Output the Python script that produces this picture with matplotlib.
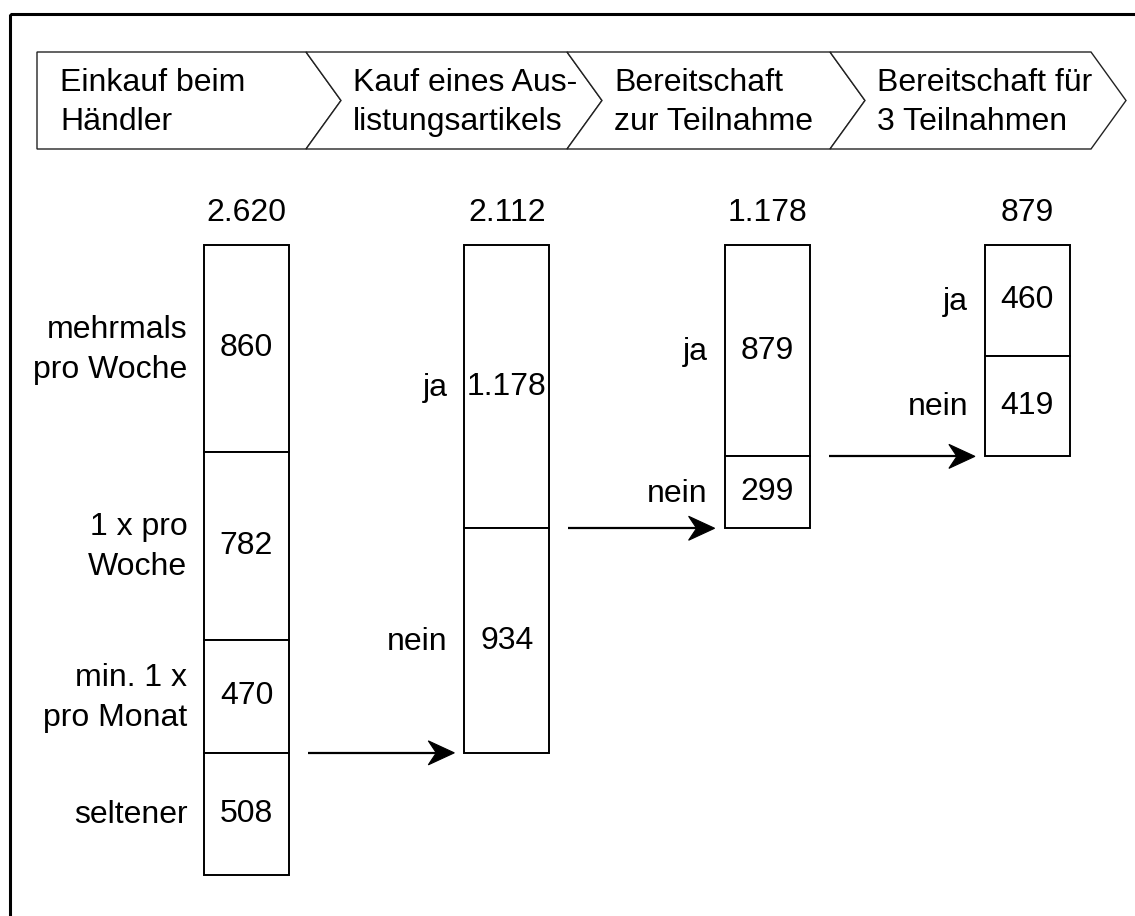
"""
Funnel of a retail survey: four process steps shown as chevrons,
stacked boxes per step (drawn to scale) and arrows to the next step.
"""

import matplotlib
matplotlib.use("Agg")
import matplotlib.pyplot as plt
from matplotlib.patches import Polygon, Rectangle

# ── Data ──────────────────────────────────────────────────────────────────────
STAGES = [
    "Einkauf beim\nHändler",
    "Kauf eines Aus-\nlistungsartikels",
    "Bereitschaft\nzur Teilnahme",
    "Bereitschaft für\n3 Teilnahmen",
]
SEGMENT_LABELS = [
    ["mehrmals\npro Woche", "1 x pro\nWoche", "min. 1 x\npro Monat", "seltener"],
    ["ja", "nein"],
    ["ja", "nein"],
    ["ja", "nein"],
]
SEGMENT_VALUES = [
    [860, 782, 470, 508],
    [1178, 934],
    [879, 299],
    [460, 419],
]

# ── Layout (pixels) ───────────────────────────────────────────────────────────
W, H, DPI = 1135, 916, 100
FONT = "Liberation Sans"
FS = 23
LSP = 1.42

BAR_TOP_PX = 245
PX_PER_UNIT = 630 / 2620
BAR0_PX = 246.5
BAR_STEP_PX = 260.3
BAR_W_PX = 85

CH_LEFT = [37, 306, 567, 830]
CH_RIGHT = [306, 567, 830, 1091]
CH_TOP, CH_BOT, CH_DEPTH = 52, 149, 35


def fmt(v):
    return f"{v:,}".replace(",", ".")


plt.rcParams["font.family"] = [FONT, "DejaVu Sans"]

fig = plt.figure(figsize=(W / DPI, H / DPI), dpi=DPI)
fig.patch.set_facecolor("white")

# ── Background: frame + chevrons in pixel coordinates ────────────────────────
ax_bg = fig.add_axes([0, 0, 1, 1], zorder=0)
ax_bg.set_xlim(0, W)
ax_bg.set_ylim(H, 0)
ax_bg.axis("off")

ax_bg.add_patch(Rectangle((10, 14), W + 20, H + 20, fill=False, lw=2.2,
                          ec="black"))

mid = (CH_TOP + CH_BOT) / 2
for i, (name, left, right) in enumerate(zip(STAGES, CH_LEFT, CH_RIGHT)):
    pts = [(left, CH_TOP), (right, CH_TOP), (right + CH_DEPTH, mid),
           (right, CH_BOT), (left, CH_BOT)]
    if i > 0:
        pts.append((left + CH_DEPTH, mid))
    ax_bg.add_patch(Polygon(pts, closed=True, fc="white", ec="#222222",
                            lw=1.0, zorder=2 + i))
    tx = left + (47 if i else 23)
    ax_bg.text(tx, mid + 2, name, ha="left", va="center", fontsize=FS,
               linespacing=LSP, zorder=10)

# ── Funnel bars in data coordinates ──────────────────────────────────────────
ax = fig.add_axes([0, 0, 1, 1], zorder=1)
ax.patch.set_alpha(0)
ax.set_xlim(-BAR0_PX / BAR_STEP_PX, (W - BAR0_PX) / BAR_STEP_PX)
ax.set_ylim((H - BAR_TOP_PX) / PX_PER_UNIT, -BAR_TOP_PX / PX_PER_UNIT)
ax.axis("off")

bw = BAR_W_PX / BAR_STEP_PX
for i, (labels, values) in enumerate(zip(SEGMENT_LABELS, SEGMENT_VALUES)):
    cum = 0
    for lab, v in zip(labels, values):
        ax.bar(i, v, bottom=cum, width=bw, facecolor="white",
               edgecolor="black", linewidth=1.4)
        ax.text(i, cum + v / 2, fmt(v), ha="center", va="center", fontsize=FS)
        ax.annotate(lab, (i - bw / 2, cum + v / 2), xytext=(-12, -1),
                    textcoords="offset points", ha="right", va="center",
                    fontsize=FS, linespacing=LSP)
        cum += v
    ax.annotate(fmt(sum(values)), (i, 0), xytext=(0, 23),
                textcoords="offset points", ha="center", va="center",
                fontsize=FS)

# arrows: from each bar to the bottom of the next one (draw.io style head)
to_px = ax.transData + ax_bg.transData.inverted()
for i in range(len(SEGMENT_VALUES) - 1):
    y = sum(SEGMENT_VALUES[i + 1])
    (x0, py), = to_px.transform([(i + bw / 2, y)])
    (x1, _), = to_px.transform([(i + 1 - bw / 2, y)])
    x0 += 19
    x1 -= 10
    ax_bg.plot([x0, x1 - 16], [py, py], color="black", lw=1.6,
               solid_capstyle="butt", zorder=5)
    head = [(x1, py), (x1 - 26, py - 12), (x1 - 18, py), (x1 - 26, py + 12)]
    ax_bg.add_patch(Polygon(head, closed=True, fc="black", ec="black",
                            lw=0.8, zorder=6))

fig.savefig("out.png", dpi=DPI, facecolor="white")
